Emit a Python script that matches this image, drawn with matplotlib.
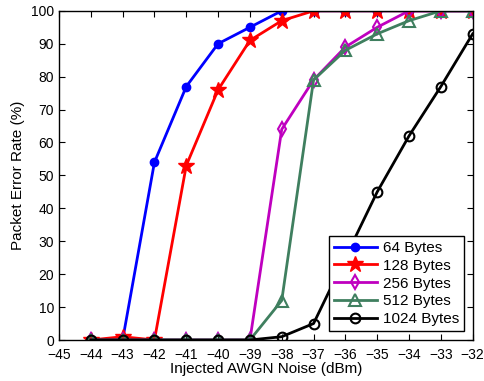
import matplotlib
matplotlib.use("Agg")
import matplotlib.pyplot as plt

plt.rcParams["font.family"] = ["Liberation Sans", "DejaVu Sans"]

noise = [-44, -43, -42, -41, -40, -39, -38, -37, -36, -35, -34, -33, -32]
per_64 = [0, 0, 54, 77, 90, 95, 100, 100, 100, 100, 100, 100, 100]
per_128 = [0, 1, 0, 53, 76, 91, 97, 100, 100, 100, 100, 100, 100]
per_256 = [0, 0, 0, 0, 0, 0, 64, 79, 89, 95, 100, 100, 100]
per_512 = [0, 0, 0, 0, 0, 0, 12, 79, 88, 93, 97, 100, 100]
per_1024 = [0, 0, 0, 0, 0, 0, 1, 5, 25, 45, 62, 77, 93]

series = [
    ("64 Bytes", per_64, dict(color="#0000FF", marker="o", ms=6, mfc="#0000FF")),
    ("128 Bytes", per_128, dict(color="#FF0000", marker="*", ms=12, mfc="#FF0000")),
    ("256 Bytes", per_256, dict(color="#BF00BF", marker="d", ms=7, mfc="none", mew=1.5)),
    ("512 Bytes", per_512, dict(color="#3F7F5F", marker="^", ms=8, mfc="none", mew=1.5)),
    ("1024 Bytes", per_1024, dict(color="#000000", marker="o", ms=7, mfc="none", mew=1.5)),
]

fig = plt.figure(figsize=(4.85, 3.81), dpi=100)
ax = fig.add_axes([0.1216, 0.1076, 0.853, 0.864])

for label, values, style in series:
    ax.plot(noise, values, label=label, lw=2, **style)

ax.set_xlim(-45, -32)
ax.set_ylim(0, 100)
ax.set_xticks(range(-45, -31))
ax.set_yticks(range(0, 101, 10))
ax.tick_params(direction="in", top=True, right=True, labelsize=10, length=4)
ax.tick_params(axis="x", pad=6)
ax.set_xlabel("Injected AWGN Noise (dBm)", fontsize=11, labelpad=0)
ax.set_ylabel("Packet Error Rate (%)", fontsize=11)
for s in ax.spines.values():
    s.set_linewidth(1)

leg = ax.legend(loc="lower right", fontsize=11, fancybox=False, framealpha=1,
                edgecolor="black", handlelength=2.8, borderpad=0.3,
                labelspacing=0.25, handletextpad=0.4, borderaxespad=0.6)
leg.get_frame().set_linewidth(1)

fig.savefig("out.png", dpi=100)
